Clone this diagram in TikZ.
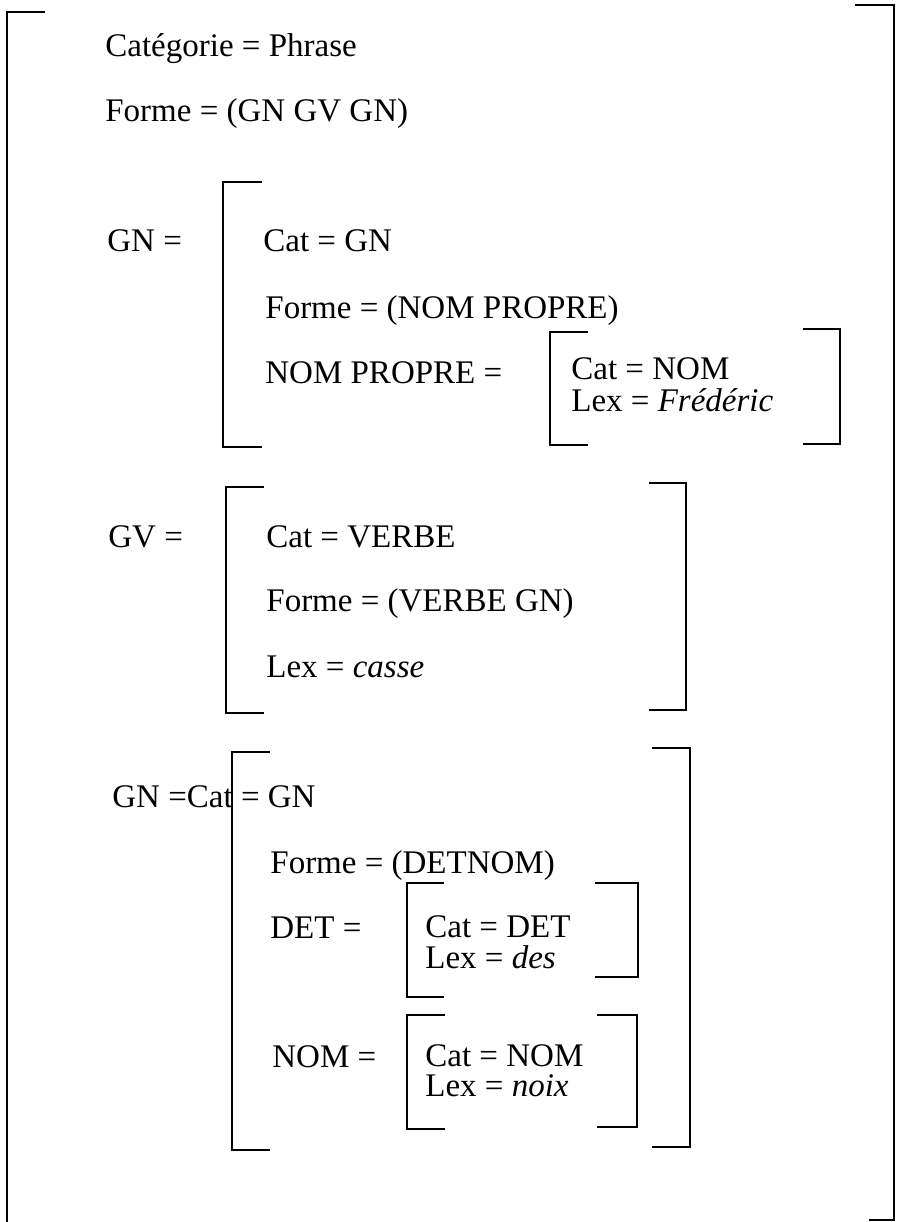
\documentclass[tikz,border=0pt]{standalone}
\usepackage{fontspec}
\setmainfont{Liberation Serif}
\usepackage{tikz}

\begin{document}
\begin{tikzpicture}[x=0.5pt, y=-0.5pt,
    lbl/.style={anchor=base west, inner sep=0pt, font=\fontsize{16.5}{18}\selectfont},
    brk/.style={line width=1pt}]

    \useasboundingbox (0,0) rectangle (896,1222);

    % Phrase
    \node[lbl] (cat) at (105,56) {Catégorie = Phrase};
    \node[lbl] (forme) at (105,121) {Forme = (GN GV GN)};

    % First GN
    \node[lbl] (gn) at (107,251) {GN =};
    \node[lbl] (gncat) at (263,251) {Cat = GN};
    \node[lbl] (gnforme) at (265,318) {Forme = (NOM PROPRE)};
    \node[lbl] (np) at (265,383) {NOM PROPRE =};
    \node[lbl] (npcat) at (571,379) {Cat = NOM};
    \node[lbl] (nplex) at (571,411) {Lex = \textit{Frédéric}};

    % GV
    \node[lbl] (gv) at (108,547) {GV =};
    \node[lbl] (gvcat) at (266,547) {Cat = VERBE};
    \node[lbl] (gvforme) at (266,611) {Forme = (VERBE GN)};
    \node[lbl] (gvlex) at (266,677) {Lex = \textit{casse}};

    % Second GN
    \node[lbl] (gnb) at (112,807) {GN =Cat = GN};
    \node[lbl] (gnbforme) at (270,873) {Forme = (DETNOM)};
    \node[lbl] (det) at (270,938) {DET =};
    \node[lbl] (detcat) at (425,937) {Cat = DET};
    \node[lbl] (detlex) at (425,968) {Lex = \textit{des}};
    \node[lbl] (nom) at (272,1067) {NOM =};
    \node[lbl] (nomcat) at (425,1066) {Cat = NOM};
    \node[lbl] (nomlex) at (425,1096) {Lex = \textit{noix}};

    % Brackets
    \draw[brk] (45,12) -- (7,12) -- (7,1222);
    \draw[brk] (855,5) -- (894,5) -- (894,1220) -- (869,1220);
    \draw[brk] (262,182) -- (223,182) -- (223,447) -- (262,447);
    \draw[brk] (588,332) -- (550,332) -- (550,445) -- (588,445);
    \draw[brk] (803,329) -- (840,329) -- (840,444) -- (803,444);
    \draw[brk] (264,487) -- (226,487) -- (226,713) -- (264,713);
    \draw[brk] (649,483) -- (686,483) -- (686,710) -- (649,710);
    \draw[brk] (270,752) -- (232,752) -- (232,1150) -- (270,1150);
    \draw[brk] (652,748) -- (690,748) -- (690,1147) -- (652,1147);
    \draw[brk] (444,883) -- (407,883) -- (407,997) -- (444,997);
    \draw[brk] (595,883) -- (638,883) -- (638,977) -- (595,977);
    \draw[brk] (445,1015) -- (407,1015) -- (407,1129) -- (445,1129);
    \draw[brk] (597,1015) -- (637,1015) -- (637,1127) -- (597,1127);
\end{tikzpicture}
\end{document}
